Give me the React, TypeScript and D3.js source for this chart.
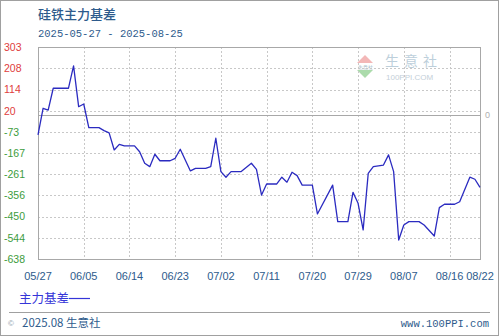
import React from "react";
import * as d3 from "d3";

const dates = [
  "2025-05-27","2025-05-28","2025-05-29","2025-05-30","2025-06-02","2025-06-03","2025-06-04","2025-06-05",
  "2025-06-06","2025-06-08","2025-06-09","2025-06-10","2025-06-11","2025-06-12","2025-06-13","2025-06-15",
  "2025-06-16","2025-06-17","2025-06-18","2025-06-19","2025-06-20","2025-06-22","2025-06-23","2025-06-24",
  "2025-06-26","2025-06-27","2025-06-29","2025-06-30","2025-07-01","2025-07-02","2025-07-03","2025-07-04",
  "2025-07-06","2025-07-08","2025-07-09","2025-07-10","2025-07-11","2025-07-13","2025-07-14","2025-07-15",
  "2025-07-16","2025-07-17","2025-07-18","2025-07-20","2025-07-21","2025-07-24","2025-07-25","2025-07-27",
  "2025-07-28","2025-07-29","2025-07-30","2025-07-31","2025-08-01","2025-08-03","2025-08-04","2025-08-05",
  "2025-08-06","2025-08-07","2025-08-08","2025-08-10","2025-08-11","2025-08-13","2025-08-14","2025-08-15",
  "2025-08-17","2025-08-18","2025-08-20","2025-08-21","2025-08-22",
];
const basis = [
  -87, 31, 23, 120, 120, 219, 38, 50,
  -55, -55, -68, -78, -154, -129, -136, -136,
  -162, -213, -228, -173, -202, -202, -191, -151,
  -247, -236, -236, -228, -102, -250, -275, -250,
  -250, -213, -240, -354, -305, -305, -275, -297,
  -253, -268, -310, -310, -438, -310, -472, -472,
  -342, -391, -509, -258, -228, -221, -176, -250,
  -554, -487, -472, -472, -487, -536, -410, -395,
  -395, -384, -275, -284, -320,
];
const yTicks = [303, 208, 114, 20, -73, -167, -261, -356, -450, -544, -638];
const xTickDates = ["2025-05-27","2025-06-05","2025-06-14","2025-06-23","2025-07-02","2025-07-11","2025-07-20","2025-07-29","2025-08-07","2025-08-16","2025-08-22"];
const title = "硅铁主力基差";
const subtitle = "2025-05-27 - 2025-08-25";
const seriesName = "主力基差";

const W = 499, H = 336;
const L = 38, R = 480, T = 47, B = 259;

const parse = (s: string) => new Date(s + "T00:00:00Z");
const fmt = d3.utcFormat("%m/%d");

export default function App() {
  const x = d3.scaleUtc().domain([parse("2025-05-27"), parse("2025-08-22")]).range([L, R]);
  const y = d3.scaleLinear().domain([-638, 303]).range([B, T]);
  const pts = dates.map((d, i) => [x(parse(d)), y(basis[i])] as [number, number]);
  const line = d3.line()(pts) || "";
  const blue = "#2e5b8c";
  return (
    <svg width={W} height={H} style={{ position: "absolute", left: 0, top: 0, background: "#fff" }}
      fontFamily="'Liberation Sans', Arial, sans-serif">
      <rect x={0.5} y={0.5} width={W - 1} height={H - 1} fill="#fff" stroke="#a0a0a0" />
      <text x={38} y={19} fontSize={13} fill={blue} fontFamily="'Noto Sans CJK SC', sans-serif" fontWeight={500}>{title}</text>
      <text x={38} y={37} fontSize={10.5} fill={blue} fontFamily="'Liberation Mono', monospace">{subtitle}</text>

      {/* watermark */}
      <g opacity={0.75}>
        <path d="M357,63 L365,55 L373,63 Z" fill="#f0a0a0" />
        <path d="M357,70 L365,78 L373,70 Z" fill="#90d090" />
        <text x={365} y={68.5} fontSize={4.5} textAnchor="middle" fill="#7799aa">生意社</text>
        <text x={385} y={66} fontSize={14} fill="#a8bfd0" letterSpacing={5} fontFamily="'Noto Sans CJK SC', sans-serif">生意社</text>
        <text x={386} y={80} fontSize={8} fill="#b0c0cc">100PPI.COM</text>
      </g>

      {/* grid */}
      {yTicks.map((t) => (
        <line key={"gy" + t} x1={L} x2={R} y1={Math.round(y(t)) + 0.5} y2={Math.round(y(t)) + 0.5}
          stroke="#c8c8c8" strokeDasharray="2,2" />
      ))}
      {xTickDates.map((d) => (
        <line key={"gx" + d} x1={Math.round(x(parse(d))) + 0.5} x2={Math.round(x(parse(d))) + 0.5} y1={T} y2={B}
          stroke="#c8c8c8" strokeDasharray="2,2" />
      ))}
      <line x1={L} x2={R} y1={Math.round(y(0)) + 0.5} y2={Math.round(y(0)) + 0.5} stroke="#a8a8a8" strokeWidth={1} />
      <text x={485} y={y(0) + 3} fontSize={9} fill="#b0b0b0">0</text>
      <rect x={L + 0.5} y={T + 0.5} width={R - L} height={B - T} fill="none" stroke="#a8a8a8" />

      {yTicks.map((t) => (
        <text key={"ty" + t} x={4} y={y(t) + 3.8} fontSize={10.5} fill={t >= 0 ? "#e03c3c" : "#3c9c3c"}>{t}</text>
      ))}
      {xTickDates.map((d) => (
        <text key={"tx" + d} x={x(parse(d))} y={279.5} fontSize={11} textAnchor="middle" fill={blue}>{fmt(parse(d))}</text>
      ))}

      <path d={line} fill="none" stroke="#2b2bc0" strokeWidth={1.3} strokeLinejoin="round" />

      <text x={19} y={303} fontSize={12.5} fill="#3535d8" fontFamily="'Noto Sans CJK SC', sans-serif">{seriesName}</text>
      <line x1={69} x2={90} y1={298.5} y2={298.5} stroke="#3535d8" strokeWidth={1.2} />

      <line x1={9} x2={490} y1={312.5} y2={312.5} stroke="#a0a0a0" />
      <text x={8} y={326} fontSize={8} fill="#8899aa">©</text>
      <text x={22} y={326.5} fontSize={11.5} fill={blue} fontFamily="'Noto Sans CJK SC', sans-serif">2025.08 生意社</text>
      <text x={489} y={326.5} fontSize={10.5} textAnchor="end" fill={blue} fontFamily="'Liberation Mono', monospace">www.100PPI.com</text>
    </svg>
  );
}
